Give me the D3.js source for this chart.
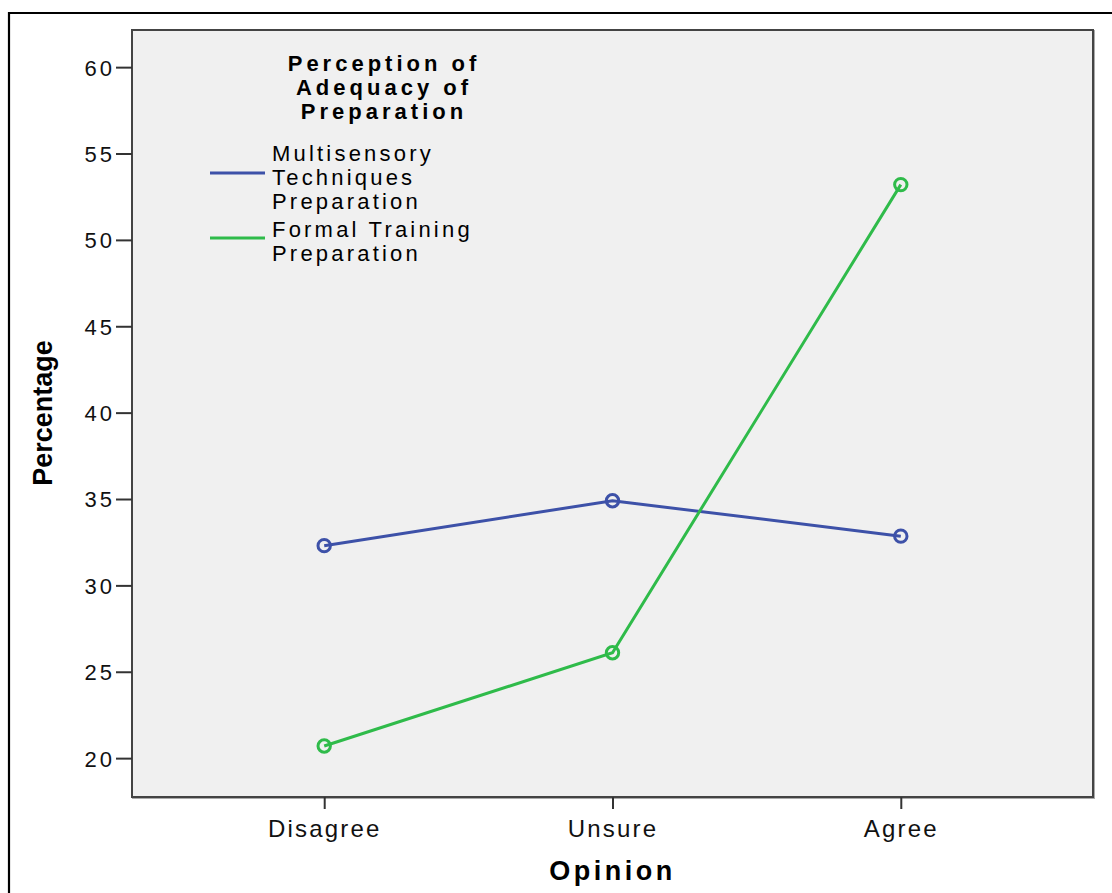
<!DOCTYPE html>
<html><head><meta charset="utf-8">
<script src="https://cdn.jsdelivr.net/npm/d3@7"></script>
<style>
html,body{margin:0;padding:0;background:#fff;}
svg{display:block;}
</style></head>
<body>
<script>
const categories = ["Disagree", "Unsure", "Agree"];
const multisensory = [32.3, 34.9, 32.85];
const formalTraining = [20.7, 26.1, 53.2];
const yTicks = [20, 25, 30, 35, 40, 45, 50, 55, 60];
const seriesNames = [["Multisensory", "Techniques", "Preparation"], ["Formal Training", "Preparation"]];
const legendTitle = ["Perception of", "Adequacy of", "Preparation"];
const xTitle = "Opinion";
const yTitle = "Percentage";

const W = 1112, H = 893;
const FONT = "Liberation Sans, Arial, sans-serif";
const svg = d3.select("body").append("svg").attr("width", W).attr("height", H);

// outer frame
svg.append("path").attr("d", `M9,${H+5} V13 H${W+5}`).attr("fill","none").attr("stroke","#000").attr("stroke-width",2.2);

const L = 132, T = 30, R = 1093, B = 797;
const x = d3.scalePoint().domain(categories).range([L, R]).padding(0.6667);
const y = d3.scaleLinear().domain([17.75, 62.15]).range([B, T]);

// plot background + shadow frame
svg.append("rect").attr("x", L+1).attr("y", T+1).attr("width", R-L).attr("height", B-T).attr("fill","none").attr("stroke","#aaa").attr("stroke-width",2);
svg.append("rect").attr("x", L).attr("y", T).attr("width", R-L).attr("height", B-T).attr("fill","#f0f0f0").attr("stroke","#444").attr("stroke-width",2);

// y axis
const yAxis = d3.axisLeft(y).tickValues(yTicks).tickSize(16).tickSizeOuter(0).tickPadding(1);
const gy = svg.append("g").attr("transform", `translate(${L},0)`).call(yAxis);
gy.select(".domain").remove();
gy.selectAll(".tick line").attr("stroke","#333").attr("stroke-width",2);
gy.selectAll(".tick text").attr("font-family",FONT).attr("font-size",22).attr("fill","#111").attr("letter-spacing","3px").attr("dy","0.36em");

// x axis
const gx = svg.append("g").attr("transform", `translate(0,${B})`).call(d3.axisBottom(x).tickSize(12).tickSizeOuter(0).tickPadding(11));
gx.select(".domain").remove();
gx.selectAll(".tick line").attr("stroke","#333").attr("stroke-width",2);
gx.selectAll(".tick text").attr("font-family",FONT).attr("font-size",24).attr("fill","#111").attr("letter-spacing","2.2px");

// titles
svg.append("text").attr("x", x("Unsure")).attr("y", 880).attr("text-anchor","middle")
  .attr("font-family",FONT).attr("font-weight","bold").attr("font-size",27).attr("letter-spacing","3.5px").attr("fill","#000").text(xTitle);
svg.append("text").attr("transform", `translate(52,413) rotate(-90)`).attr("text-anchor","middle")
  .attr("font-family",FONT).attr("font-weight","bold").attr("font-size",27).attr("fill","#000").text(yTitle);

// lines
const series = [{vals: multisensory, color: "#3d51a8"}, {vals: formalTraining, color: "#2fbb4a"}];
const line = d3.line().x((d,i)=>x(categories[i])).y(d=>y(d));
series.forEach(s => {
  svg.append("path").datum(s.vals).attr("d", line).attr("fill","none").attr("stroke", s.color).attr("stroke-width",3);
  svg.selectAll(null).data(s.vals).enter().append("circle")
    .attr("cx",(d,i)=>x(categories[i])).attr("cy",d=>y(d)).attr("r",6.2)
    .attr("fill","none").attr("stroke", s.color).attr("stroke-width",3);
});

// legend
const lg = svg.append("g");
legendTitle.forEach((t,i) => {
  lg.append("text").attr("x", 384).attr("y", 71 + i*24).attr("text-anchor","middle")
    .attr("font-family",FONT).attr("font-weight","bold").attr("font-size",22).attr("letter-spacing","4px").attr("fill","#000").text(t);
});
const legendLineY = [173, 238];
const legendTextY = [[161, 185, 209], [237, 261]];
seriesNames.forEach((names, k) => {
  lg.append("line").attr("x1",210).attr("x2",265).attr("y1",legendLineY[k]).attr("y2",legendLineY[k]).attr("stroke",series[k].color).attr("stroke-width",3);
  names.forEach((n,j) => {
    lg.append("text").attr("x",272).attr("y",legendTextY[k][j])
      .attr("font-family",FONT).attr("font-size",22).attr("letter-spacing","3.2px").attr("fill","#000").text(n);
  });
});
</script>
</body></html>
